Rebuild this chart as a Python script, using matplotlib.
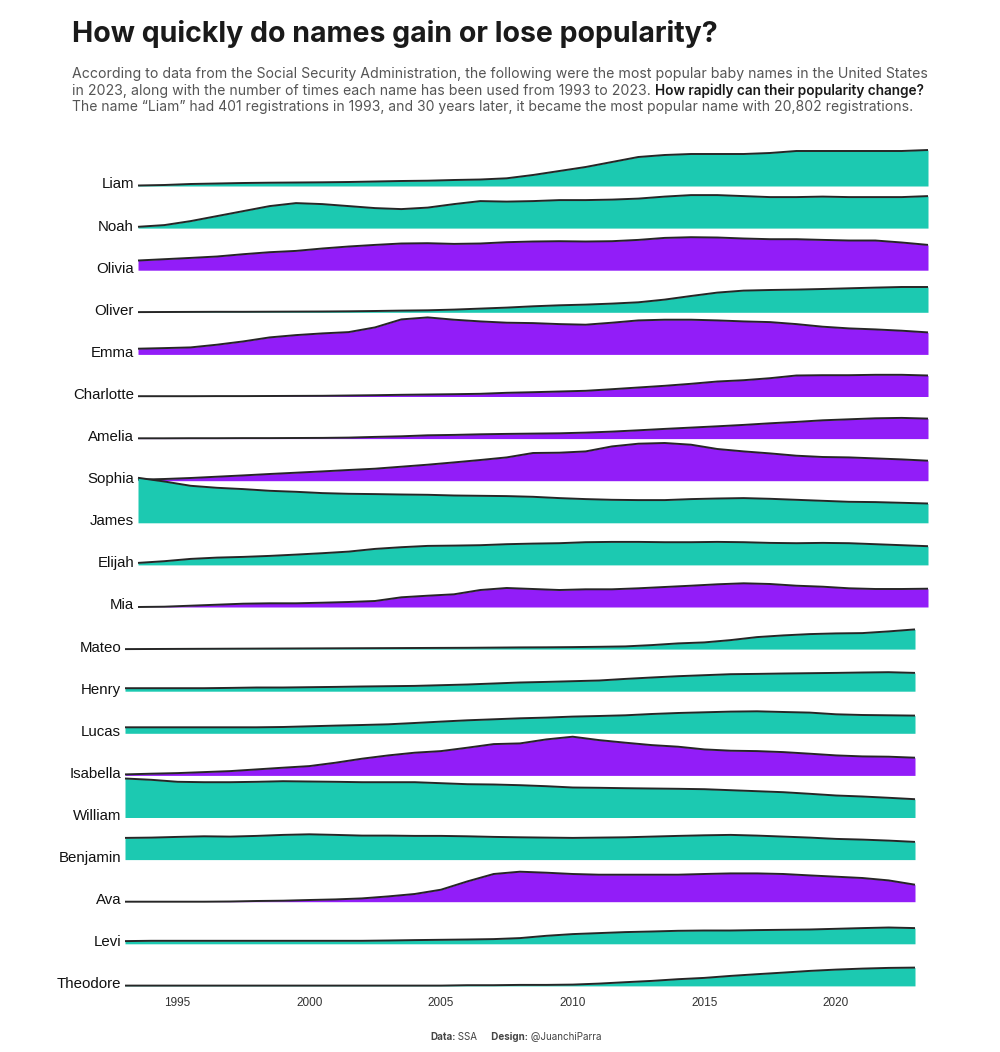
import matplotlib
matplotlib.use("Agg")
import matplotlib.pyplot as plt
import numpy as np

years = list(range(1993, 2024))

names = ["Liam", "Noah", "Olivia", "Oliver", "Emma", "Charlotte", "Amelia", "Sophia",
         "James", "Elijah", "Mia", "Mateo", "Henry", "Lucas", "Isabella", "William",
         "Benjamin", "Ava", "Levi", "Theodore"]
girls = ["Olivia", "Emma", "Charlotte", "Amelia", "Sophia", "Mia", "Isabella", "Ava"]

# relative popularity index per name, 1993..2023
liam = [0.5, 1, 2, 2.5, 3, 3.3, 3.5, 3.7, 4, 4.5, 5, 5.3, 6, 6.5, 7.7, 11, 15, 19, 24, 29, 31,
        32, 32, 32, 33, 35, 35, 35, 35, 35, 36]
noah = [1.3, 3, 7, 12, 17, 22, 25, 24, 22, 20, 19, 20.5, 24, 27, 26.5, 27, 28, 28, 28.5, 29.5,
        31.5, 33, 33, 32, 31, 31, 31.5, 31, 31, 31, 32]
olivia = [9.7, 11, 12.3, 13.7, 16, 18, 19.3, 21.7, 23.7, 25.3, 26.7, 27, 26.3, 26.7, 28, 28.7,
          29, 28.7, 29, 30.3, 32.3, 33, 32.7, 31.7, 31, 31, 30.3, 29.7, 29.7, 27.7, 25.3]
oliver = [0.2, 0.3, 0.4, 0.5, 0.5, 0.6, 0.7, 0.8, 1, 1.3, 1.7, 2, 2.7, 3.7, 4.7, 6, 7, 7.7, 8.7,
          10, 12.7, 16.3, 19.7, 21.7, 22.3, 22.7, 23.3, 24, 24.7, 25.3, 25.3]
emma = [5.7, 6.3, 7, 9.7, 13, 17, 19.3, 21, 22.3, 27, 35, 37, 34.7, 33, 31.7, 31.3, 30.3, 29.7,
        31.7, 34, 34.7, 34.7, 34, 33, 32.3, 30.3, 27.7, 26, 25, 23.7, 22]
charlotte = [0.3, 0.3, 0.3, 0.4, 0.4, 0.5, 0.6, 0.7, 1, 1.3, 1.7, 2, 2.3, 2.7, 3.7, 4.3, 5, 5.7,
             7.3, 9, 10.7, 12.7, 15, 16.3, 18.3, 21, 21.3, 21.3, 21.7, 21.7, 21]
amelia = [0.3, 0.3, 0.4, 0.4, 0.5, 0.5, 0.6, 0.7, 1, 1.7, 2.3, 3.3, 3.7, 4.3, 4.7, 5, 5.3, 6, 7,
          8.3, 9.7, 11, 12.3, 13.7, 15.3, 16.7, 18.3, 19.3, 20.3, 20.7, 20]
sophia = [1, 1.7, 2.7, 4, 5.3, 6.7, 8, 9.3, 10.7, 12, 14, 16, 18.3, 20.7, 23.3, 27.7, 28, 29.3,
          34.3, 37, 37.7, 36, 31.7, 29.3, 27.3, 25, 23.7, 23.3, 22.3, 21.3, 20]
james = [45, 41.3, 37, 35, 33.7, 32, 31, 29.7, 29, 28.7, 28.3, 28, 27.3, 27, 26.7, 26, 24.7,
         23.7, 23, 22.7, 22.7, 23.7, 24.3, 24.7, 24, 23, 22, 21, 20.7, 20, 19.3]
elijah = [2, 3.7, 6, 7.3, 8, 9, 10.3, 11.7, 13.3, 16, 17.7, 19, 19.3, 19.7, 20.7, 21.3, 21.7,
          22.7, 23, 23, 22.7, 22.7, 23, 22.7, 22, 21.7, 22, 21.7, 20.7, 19.7, 18.7]
mia = [0, 0.3, 1.3, 2.3, 3.3, 3.7, 3.7, 4.3, 5, 6, 9.7, 11.3, 12.7, 17, 19, 18, 17, 17.7, 17.7,
       18.7, 20, 21.3, 22.7, 23.7, 23, 21.3, 20.3, 18.7, 18, 18, 18.3]
mateo = [0, 0.1, 0.2, 0.3, 0.4, 0.5, 0.6, 0.7, 0.8, 0.9, 1, 1.1, 1.2, 1.3, 1.5, 1.7, 1.8, 2,
         2.3, 2.7, 4, 5.7, 6.7, 9, 12, 13.7, 15, 15.7, 16, 17.7, 19.7]
henry = [3, 3, 3, 3, 3.3, 3.7, 3.7, 4, 4.3, 4.7, 5, 5.3, 6, 6.7, 7.7, 8.7, 9.3, 10, 10.7, 12.3,
         13.7, 15, 16, 17, 17.3, 17.7, 18, 18.3, 18.7, 19, 18.3]
lucas = [6, 6, 6, 6, 6, 6, 6.3, 7, 7.7, 8.3, 9, 10.3, 11.7, 13, 14, 15, 15.7, 16.7, 17.3, 18,
         19.3, 20.3, 21, 21.7, 22, 21.3, 20.7, 19, 18.3, 18, 17.7]
isabella = [1, 1.7, 2.3, 3.3, 4.3, 6, 7.7, 9.3, 12.7, 16.7, 20, 22.7, 24.3, 27.7, 31.3, 32, 36,
            38.7, 35.3, 32.7, 30.3, 28.7, 26, 24.7, 24.3, 23.3, 21.7, 20, 19, 18.7, 17.7]
william = [39, 37.7, 35.7, 35.3, 35.3, 35.7, 36.3, 36, 35.7, 35.3, 35.3, 35.3, 34.3, 33.3, 33,
           32.3, 31.3, 30, 29.7, 29.3, 29, 28.7, 28.3, 27.3, 26.3, 25.3, 23.7, 22, 21, 19.7, 18.3]
benjamin = [21.7, 22, 22.7, 23.3, 23, 23.7, 24.7, 25.3, 24.7, 24, 24, 23.7, 23.7, 23.3, 22.7,
            22.3, 22, 21.7, 22, 22.3, 23, 23.7, 24.3, 24.7, 24, 23, 22, 20.7, 20, 19, 17.7]
ava = [0, 0, 0, 0, 0.2, 0.7, 1, 1.7, 2.3, 3.3, 5.3, 7.7, 12, 20.3, 27.7, 30, 29, 27.7, 27, 27,
       27, 27, 27.7, 28.3, 28.3, 27.7, 26.3, 25, 23.7, 21.3, 17]
levi = [2.7, 3, 3, 3, 3, 3, 3, 3, 3, 3, 3.3, 3.7, 4, 4.3, 4.7, 5.7, 8, 9.7, 10.7, 11.7, 12.3, 13,
        13.3, 13.3, 13.7, 14, 14.3, 15, 15.7, 16.3, 15.7]
theodore = [0.3, 0.3, 0.3, 0.3, 0.3, 0.3, 0.3, 0.3, 0.3, 0.3, 0.3, 0.3, 0.3, 0.7, 0.7, 1, 1,
            1.3, 2.3, 3.7, 5, 6.7, 8, 10, 11.7, 13.3, 15, 16.3, 17.3, 18, 18.3]

series = [liam, noah, olivia, oliver, emma, charlotte, amelia, sophia, james, elijah, mia,
          mateo, henry, lucas, isabella, william, benjamin, ava, levi, theodore]
tick_years = [1995, 2000, 2005, 2010, 2015, 2020]

TEAL = "#1CC9B1"
PURPLE = "#921DF8"
LINE = "#262626"

W, H = 1000, 1052
fig = plt.figure(figsize=(W / 100, H / 100), dpi=100)

top_px, bot_px = 140, 993
first_base, step = 186, 42.1
n_upper = 11

def make_ax(left_px):
    ax = fig.add_axes([left_px / W, 1 - bot_px / H, 790 / W, (bot_px - top_px) / H])
    ax.set_xlim(years[0], years[-1])
    ax.set_ylim(bot_px, top_px)
    for s in ax.spines.values():
        s.set_visible(False)
    ax.set_yticks([])
    ax.patch.set_alpha(0)
    return ax

ax_up = make_ax(138)
ax_lo = make_ax(125)
ax_up.set_xticks([])
ax_lo.set_xticks(tick_years)
ax_lo.set_xticklabels([str(t) for t in tick_years], fontsize=8.5,
                      fontfamily="Liberation Sans", color="#333333")
ax_lo.tick_params(axis="x", length=0, pad=3)

x = np.array(years)
for i, (nm, vals) in enumerate(zip(names, series)):
    ax = ax_up if i < n_upper else ax_lo
    base = first_base + step * i
    v = np.array(vals, dtype=float)
    color = PURPLE if nm in girls else TEAL
    ax.fill_between(x, base, base - v, color=color, lw=0, zorder=2 * i + 1, clip_on=False)
    ax.plot(x, base - v, color=LINE, lw=1.4, zorder=2 * i + 2, clip_on=False,
            solid_capstyle="butt", solid_joinstyle="round")
    ax.text(-0.005, base - 1.5, nm, transform=ax.get_yaxis_transform(),
            ha="right", va="center", fontsize=10.8, fontfamily="Liberation Sans",
            color="#111111", clip_on=False)

fig.canvas.draw()
renderer = fig.canvas.get_renderer()

def fit_text(txt, x_px, y_px, target_w, size0, **kw):
    t = fig.text(x_px / W, 1 - y_px / H, txt, fontsize=size0, **kw)
    w = t.get_window_extent(renderer).width
    t.set_fontsize(size0 * target_w / w)
    return t

fit_text("How quickly do names gain or lose popularity?", 72, 34, 646, 22,
         fontfamily="Inter", fontweight="bold", color="#1a1a1a", va="center")

sub_kw = dict(fontfamily="Inter", color="#555555", va="center")
t1 = fit_text("According to data from the Social Security Administration, the following were "
              "the most popular baby names in the United States", 72, 74, 854, 10, **sub_kw)
fs = t1.get_fontsize()
t2 = fig.text(72 / W, 1 - 91 / H, "in 2023, along with the number of times each name has been "
              "used from 1993 to 2023. ", fontsize=fs, **sub_kw)
w2 = t2.get_window_extent(renderer).width
fit_text("How rapidly can their popularity change?", 72 + w2, 91, 926 - 72 - w2, fs,
         fontfamily="Inter", fontweight="semibold", color="#1a1a1a", va="center")
fit_text("The name \u201cLiam\u201d had 401 registrations in 1993, and 30 "
         "years later, it became the most popular name with 20,802 registrations.",
         72, 107, 842, fs, **sub_kw)

# Caption
parts = [("Data:", "bold"), (" SSA", "normal"), ("      Design:", "bold"),
         (" @JuanchiParra", "normal")]
cap_fs = 6.3
total = 0
tmp = []
for txt, wt in parts:
    t = fig.text(0, 0, txt, fontsize=cap_fs, fontfamily="Inter", fontweight=wt)
    total += t.get_window_extent(renderer).width
    tmp.append(t)
for t in tmp:
    t.remove()
cap_fs = cap_fs * 172 / total
xc = 430
for txt, wt in parts:
    t = fig.text(xc / W, 1 - 1037 / H, txt, fontsize=cap_fs, fontfamily="Inter",
                 fontweight=wt, color="#444444", va="center")
    xc += t.get_window_extent(renderer).width

fig.savefig("out.png", dpi=100, facecolor="white")
